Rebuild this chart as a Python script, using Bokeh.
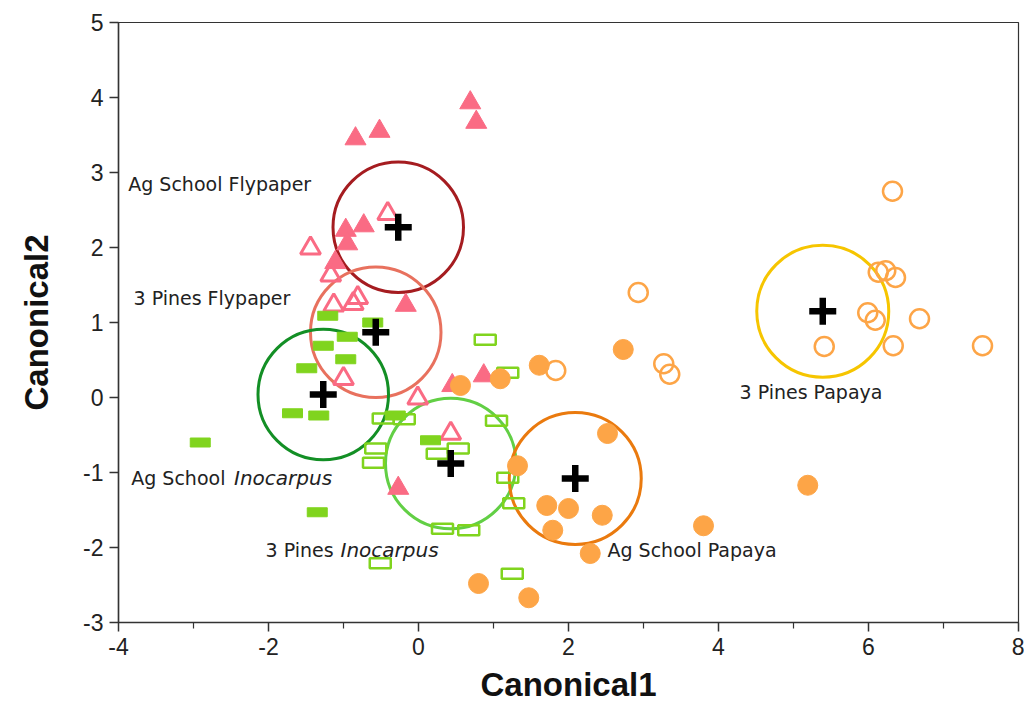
from bokeh.plotting import figure
from bokeh.models import FixedTicker
from bokeh.embed import file_html
from bokeh.resources import INLINE
from bokeh.core.properties import value

# ---- data ----
ag_fly_x = [0.69, 0.77, -0.84, -0.52, -0.73, -0.97, -0.95, -1.11, -0.17, 0.87, 0.45, -0.27]
ag_fly_y = [3.93, 3.67, 3.45, 3.55, 2.29, 2.23, 2.05, 1.80, 1.23, 0.29, 0.16, -1.21]

tp_fly_x = [-0.41, -1.44, -1.17, -0.81, -0.87, -1.13, -1.00, -0.01, 0.43]
tp_fly_y = [2.45, 1.99, 1.63, 1.33, 1.25, 1.23, 0.25, -0.01, -0.48]

ag_ino_x = [-1.21, -0.61, -0.95, -1.27, -0.97, -1.49, -1.68, -1.33, -2.91, -1.35, -0.31, 0.16]
ag_ino_y = [1.09, 1.00, 0.81, 0.69, 0.51, 0.39, -0.21, -0.24, -0.60, -1.53, -0.24, -0.57]

tp_ino_x = [0.89, 1.19, -0.47, -0.19, 1.04, -0.57, -0.60, 0.25, 0.53, 1.19, 1.27, 0.32, 0.67, 1.25, -0.51]
tp_ino_y = [0.77, 0.33, -0.28, -0.29, -0.31, -0.68, -0.87, -0.75, -0.68, -1.07, -1.41, -1.75, -1.77, -2.35, -2.21]

ag_pap_x = [1.61, 1.09, 0.56, 2.73, 1.32, 2.52, 1.71, 2.00, 2.45, 1.79, 2.29, 0.80, 1.47, 3.80, 5.19]
ag_pap_y = [0.43, 0.25, 0.16, 0.64, -0.91, -0.48, -1.44, -1.48, -1.57, -1.77, -2.08, -2.48, -2.67, -1.71, -1.17]

tp_pap_x = [1.83, 2.93, 3.27, 3.35, 6.32, 6.13, 6.23, 6.36, 5.99, 6.09, 6.68, 6.33, 5.41, 7.52]
tp_pap_y = [0.36, 1.40, 0.45, 0.31, 2.75, 1.67, 1.69, 1.60, 1.13, 1.03, 1.05, 0.69, 0.68, 0.69]

groups = ["Ag School Flypaper", "3 Pines Flypaper", "Ag School Inocarpus",
          "3 Pines Inocarpus", "Ag School Papaya", "3 Pines Papaya"]
centroid_x = [-0.27, -0.57, -1.27, 0.43, 2.09, 5.39]
centroid_y = [2.27, 0.87, 0.04, -0.88, -1.08, 1.15]
conf_radius = [0.87, 0.87, 0.87, 0.87, 0.88, 0.88]
circle_colors = ["#A51C20", "#E8715E", "#138F25", "#62CF45", "#EA7A0E", "#F6C500"]

# label text pieces (normal part, italic part) and anchor positions in data units
label_normal = ["Ag School Flypaper", "3 Pines Flypaper", "Ag School", "3 Pines", "Ag School Papaya", "3 Pines Papaya"]
label_x = [-3.87, -3.80, -3.83, -2.04, 2.52, 4.28]
label_y = [2.85, 1.33, -1.07, -2.03, -2.03, 0.07]
italic_text = ["Inocarpus", "Inocarpus"]
italic_x = [-2.46, -1.04]
italic_y = [-1.07, -2.03]

x_ticks = [-4, -2, 0, 2, 4, 6, 8]
x_minor = [-3, -1, 1, 3, 5, 7]
y_ticks = [-3, -2, -1, 0, 1, 2, 3, 4, 5]

PINK = "#FA6B84"
LIME = "#80D41E"
ORANGE = "#FDA547"

p = figure(width=1024, height=715, x_range=(-4, 8), y_range=(-3, 5),
           output_backend="svg", toolbar_location=None,
           min_border_left=118, min_border_right=6, min_border_top=22, min_border_bottom=93)
p.grid.visible = False
p.outline_line_color = "#333333"
p.outline_line_width = 1.2
p.background_fill_color = "white"
p.border_fill_color = "white"

# confidence circles
p.circle(x=centroid_x, y=centroid_y, radius=conf_radius, fill_color=None,
         line_color=circle_colors, line_width=3)

# points
p.scatter(ag_fly_x, ag_fly_y, marker="triangle", size=21, fill_color=PINK, line_color=PINK, line_width=1)
p.scatter(tp_fly_x, tp_fly_y, marker="triangle", size=20, fill_color=None, line_color=PINK, line_width=3)
p.rect(ag_ino_x, ag_ino_y, width=20, height=9, width_units="screen", height_units="screen",
       fill_color=LIME, line_color=LIME, line_width=1)
p.rect(tp_ino_x, tp_ino_y, width=21, height=10, width_units="screen", height_units="screen",
       fill_color=None, line_color=LIME, line_width=2.5)
p.scatter(ag_pap_x, ag_pap_y, marker="circle", size=20, fill_color=ORANGE, line_color=ORANGE, line_width=1)
p.scatter(tp_pap_x, tp_pap_y, marker="circle", size=19, fill_color=None, line_color=ORANGE, line_width=2.5)

# centroids
p.scatter(centroid_x, centroid_y, marker="cross", size=27, line_color="black", line_width=6.5)

# labels
p.text(x=label_x, y=label_y, text=label_normal, text_font=value("DejaVu Sans"),
       text_font_size="19px", text_color="#222222", text_align="left", text_baseline="middle")
p.text(x=italic_x, y=italic_y, text=italic_text, text_font=value("DejaVu Sans"),
       text_font_style="italic", text_font_size="20px", text_color="#222222",
       text_align="left", text_baseline="middle")

# axes
for ax in (p.xaxis, p.yaxis):
    ax.axis_line_color = "#333333"
    ax.axis_line_width = 1.5
    ax.major_tick_line_color = "#333333"
    ax.minor_tick_line_color = "#333333"
    ax.major_tick_line_width = 1.5
    ax.minor_tick_line_width = 1.2
    ax.major_tick_out = 9
    ax.major_tick_in = 0
    ax.minor_tick_out = 6
    ax.minor_tick_in = 0
    ax.major_label_text_font = "Liberation Sans"
    ax.major_label_text_font_size = "23px"
    ax.major_label_text_color = "#222222"
    ax.axis_label_text_font = "Liberation Sans"
    ax.axis_label_text_font_style = "bold"
    ax.axis_label_text_font_size = "33px"
    ax.axis_label_text_color = "#111111"

p.xaxis.ticker = FixedTicker(ticks=x_ticks, minor_ticks=x_minor)
p.yaxis.ticker = FixedTicker(ticks=y_ticks, minor_ticks=[])
p.xaxis.major_label_overrides = {t: str(t) for t in x_ticks}
p.yaxis.major_label_overrides = {t: str(t) for t in y_ticks}
p.xaxis.axis_label = "Canonical1"
p.yaxis.axis_label = "Canonical2"
p.xaxis.major_label_standoff = 6
p.xaxis.axis_label_standoff = 8
p.yaxis.major_label_standoff = 6
p.yaxis.axis_label_standoff = 25

open("out.html", "w").write(file_html(p, INLINE))
